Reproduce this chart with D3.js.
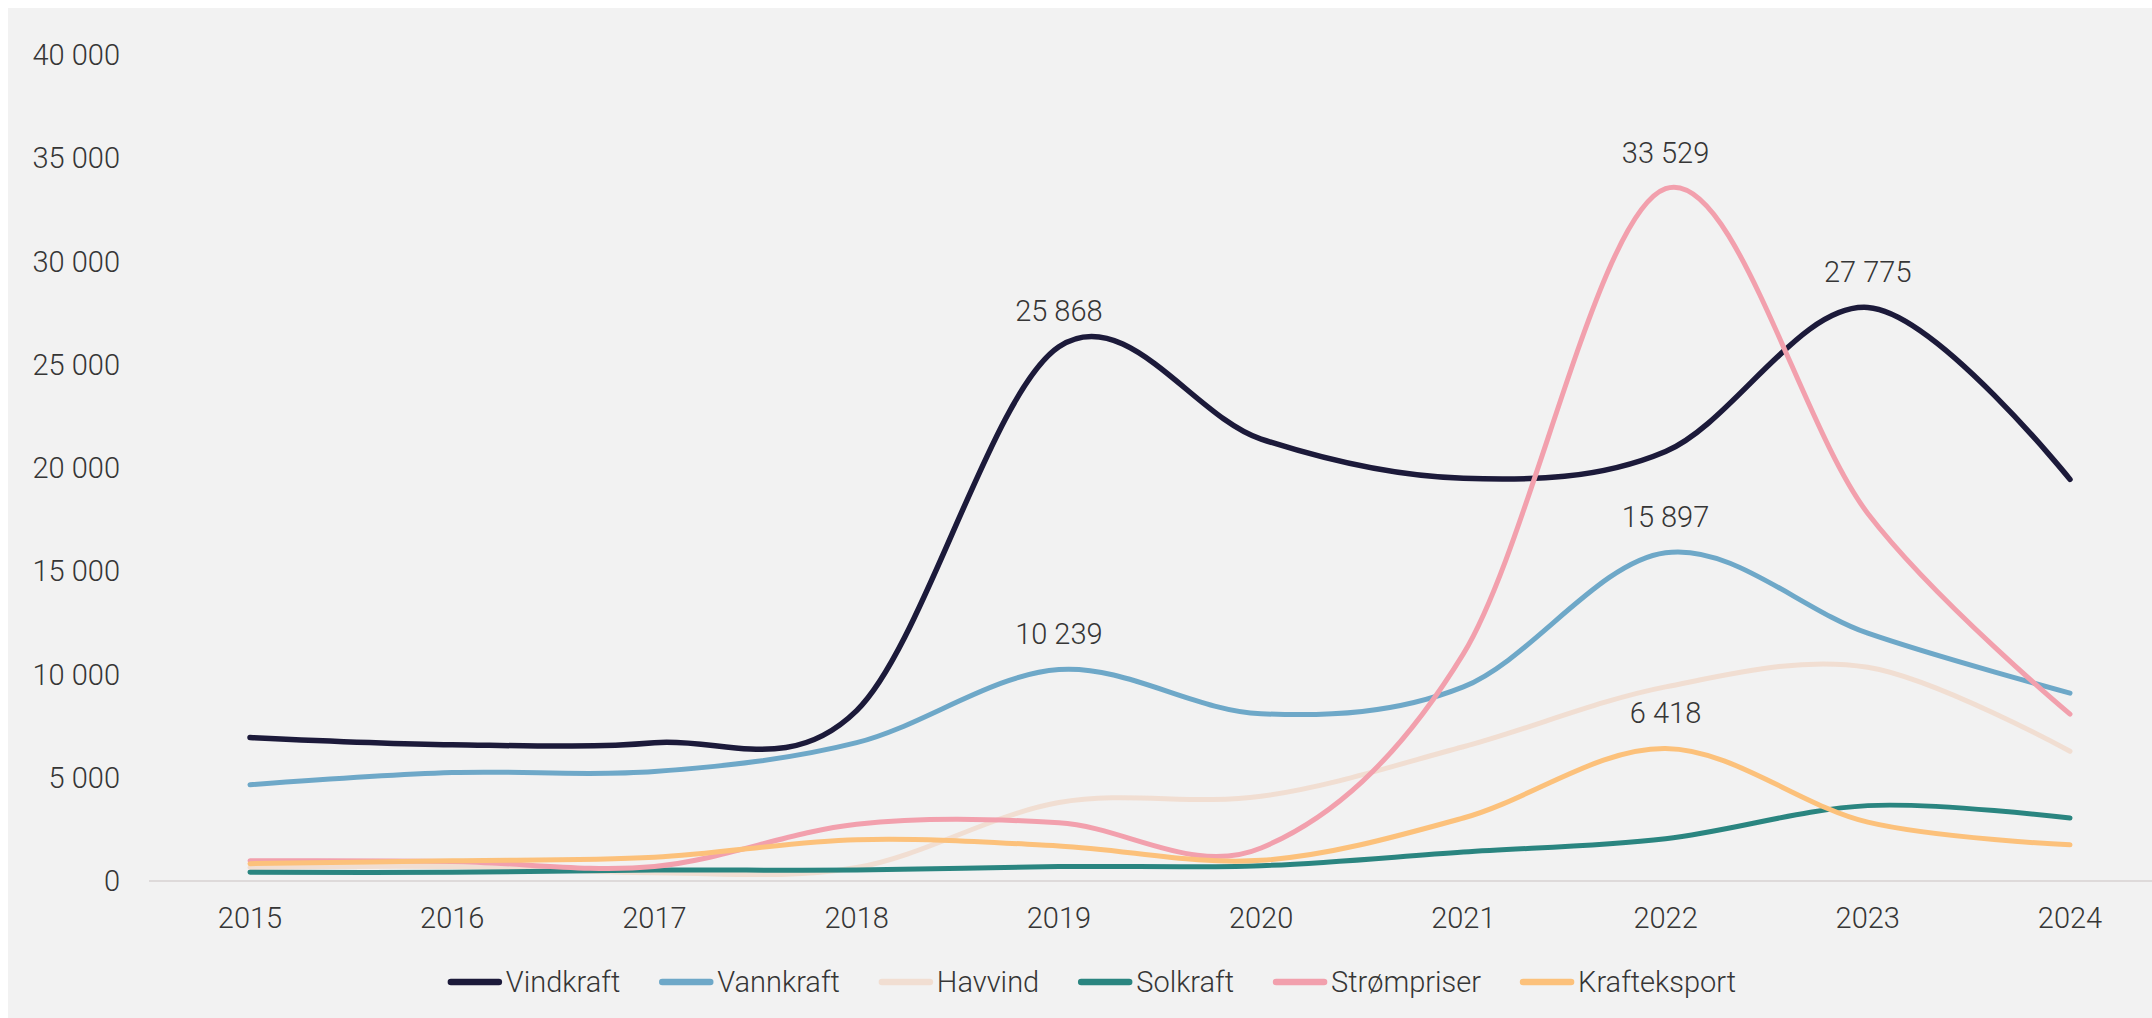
<!doctype html>
<html>
  <head>
    <meta charset="utf-8">
    <script src="https://cdn.jsdelivr.net/npm/d3@7"></script>
    <style>
      body { margin: 0; background: #fff; }
      text { font-family: Roboto, "Noto Sans", sans-serif; font-weight: 300; fill: #363636; }
    </style>
  </head>
  <body>
    <svg id="chart" width="2152" height="1018"></svg>

    <script>
      // years on the x axis
      var years = [2015, 2016, 2017, 2018, 2019, 2020, 2021, 2022, 2023, 2024];

      // one array per series
      var vindkraft    = [6950, 6600, 6700, 8250, 25868, 21400, 19500, 20800, 27775, 19450];
      var vannkraft    = [4660, 5250, 5300, 6700, 10239, 8100, 9400, 15897, 12000, 9100];
      var havvind      = [650, 700, 400, 650, 3800, 4100, 6500, 9400, 10350, 6280];
      var solkraft     = [420, 420, 530, 530, 700, 740, 1400, 2050, 3650, 3050];
      var strompriser  = [980, 950, 700, 2750, 2820, 1600, 11000, 33529, 17800, 8080];
      var krafteksport = [840, 980, 1150, 2000, 1700, 1000, 3050, 6418, 2850, 1750];

      var seriesNames  = ["Vindkraft", "Vannkraft", "Havvind", "Solkraft", "Strømpriser", "Krafteksport"];
      var seriesColors = ["#1c1a3a", "#6ea8c8", "#f1ded2", "#2a8580", "#f2a0ad", "#fcc17b"];
      var seriesValues = [vindkraft, vannkraft, havvind, solkraft, strompriser, krafteksport];

      var yTicks = [0, 5000, 10000, 15000, 20000, 25000, 30000, 35000, 40000];

      // labelled points: [series index, year]
      var labelled = [[0, 2019], [1, 2019], [4, 2022], [1, 2022], [5, 2022], [0, 2023]];

      var svg = d3.select("#chart");

      // grey panel
      svg.append("rect")
        .attr("x", 8).attr("y", 8)
        .attr("width", 2144).attr("height", 1010)
        .attr("fill", "#f2f2f2");

      var x = d3.scalePoint()
        .domain(years)
        .range([250, 2070]);

      var y = d3.scaleLinear()
        .domain([0, 40000])
        .range([881, 55]);

      // number format with space as thousands separator
      var fmt = function(v) {
        return d3.format(",")(v).replace(/,/g, " ");
      };

      // y axis labels
      svg.append("g").selectAll("text")
        .data(yTicks)
        .enter()
        .append("text")
          .attr("x", 120)
          .attr("y", function(d) { return y(d); })
          .attr("dy", "0.35em")
          .attr("text-anchor", "end")
          .attr("font-size", 29)
          .text(fmt);

      // baseline
      svg.append("line")
        .attr("x1", 149).attr("x2", 2152)
        .attr("y1", y(0)).attr("y2", y(0))
        .attr("stroke", "#dedada")
        .attr("stroke-width", 2);

      // x axis labels
      svg.append("g").selectAll("text")
        .data(years)
        .enter()
        .append("text")
          .attr("x", function(d) { return x(d); })
          .attr("y", 918)
          .attr("dy", "0.35em")
          .attr("text-anchor", "middle")
          .attr("font-size", 29)
          .text(function(d) { return d; });

      // smoothed lines, like the spreadsheet's "smoothed line" option
      var line = d3.line()
        .x(function(d, i) { return x(years[i]); })
        .y(function(d) { return y(d); })
        .curve(d3.curveCardinal.tension(0));

      svg.append("g").selectAll("path")
        .data(seriesValues)
        .enter()
        .append("path")
          .attr("fill", "none")
          .attr("stroke", function(d, i) { return seriesColors[i]; })
          .attr("stroke-width", function(d, i) { return i === 0 ? 5.5 : 5; })
          .attr("stroke-linecap", "round")
          .attr("stroke-linejoin", "round")
          .attr("d", line);

      // data labels above selected points
      svg.append("g").selectAll("text")
        .data(labelled)
        .enter()
        .append("text")
          .attr("x", function(d) { return x(d[1]); })
          .attr("y", function(d) { return y(seriesValues[d[0]][years.indexOf(d[1])]) - 36; })
          .attr("dy", "0.35em")
          .attr("text-anchor", "middle")
          .attr("font-size", 29)
          .text(function(d) { return fmt(seriesValues[d[0]][years.indexOf(d[1])]); });

      // legend, laid out from measured text widths and centered
      var legend = svg.append("g");
      var swatch = 54, gapText = 4, gapItem = 39;
      var items = legend.selectAll("g")
        .data(seriesNames)
        .enter()
        .append("g");

      items.append("line")
        .attr("x1", 3).attr("x2", swatch - 3)
        .attr("y1", 0).attr("y2", 0)
        .attr("stroke", function(d, i) { return seriesColors[i]; })
        .attr("stroke-width", 6.5)
        .attr("stroke-linecap", "round");

      items.append("text")
        .attr("x", swatch + gapText)
        .attr("y", 0)
        .attr("dy", "0.35em")
        .attr("font-size", 29)
        .text(function(d) { return d; });

      var offset = 0;
      items.each(function() {
        var w = d3.select(this).select("text").node().getComputedTextLength();
        d3.select(this).attr("transform", "translate(" + offset + ",0)");
        offset += swatch + gapText + w + gapItem;
      });
      var total = offset - gapItem;
      legend.attr("transform", "translate(" + (1092 - total / 2) + ",982)");
    </script>
  </body>
</html>
